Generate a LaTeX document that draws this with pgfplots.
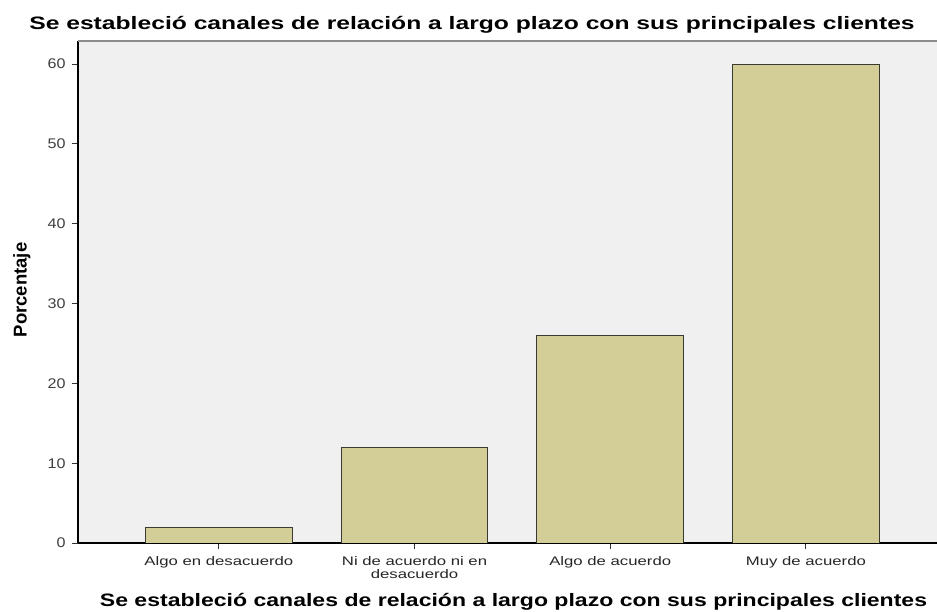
\documentclass[border=0pt]{standalone}
\usepackage{pgfplots}
\pgfplotsset{compat=1.18}
\usepackage{fontspec}
\setmainfont{Liberation Sans}
\newfontfamily\tickfont[FakeStretch=1.35]{Liberation Sans}
\newfontfamily\ytickfont[FakeStretch=1.15]{Liberation Sans}
\newfontfamily\titlefont[FakeStretch=1.37]{Liberation Sans}
\newfontfamily\xlabfont[FakeStretch=1.28]{Liberation Sans}
\definecolor{bgc}{HTML}{F0F0F0}
\definecolor{barc}{HTML}{D3CE97}
\definecolor{edgec}{HTML}{3A3A32}
\begin{document}
\begin{tikzpicture}
\useasboundingbox (0,0) rectangle (937bp,612bp);
\begin{axis}[
  at={(78bp,69bp)}, anchor=south west,
  width=859bp, height=502bp, scale only axis,
  xmin=-0.72, xmax=3.67, ymin=0, ymax=62.9,
  axis x line*=bottom, axis y line*=left,
  axis line style={black, line width=1.1bp},
  axis background/.style={fill=bgc},
  ybar, bar width=0.75,
  xtick={0,1,2,3},
  xticklabels={Algo en desacuerdo, {Ni de acuerdo ni en\\desacuerdo}, Algo de acuerdo, Muy de acuerdo},
  ytick={0,10,20,30,40,50,60},
  tick align=outside, major tick length=6bp,
  tick style={black!80, line width=1bp},
  /pgf/number format/assume math mode=true,
  xticklabel style={font=\tickfont\fontsize{12.4bp}{12.5bp}\selectfont, align=center, text=black!85, yshift=-4bp},
  yticklabel style={font=\ytickfont\fontsize{14bp}{14bp}\selectfont, text=black!75, xshift=-3bp},
  title={Se estableció canales de relación a largo plazo con sus principales clientes},
  title style={font=\titlefont\bfseries\fontsize{18bp}{20bp}\selectfont, at={(axis description cs:0.4587,1.021)}, anchor=center},
  xlabel={Se estableció canales de relación a largo plazo con sus principales clientes},
  xlabel style={font=\xlabfont\bfseries\fontsize{18bp}{20bp}\selectfont, at={(axis description cs:0.507,-0.1175)}, anchor=center},
  ylabel={Porcentaje},
  ylabel style={font=\bfseries\fontsize{18.5bp}{20bp}\selectfont, at={(axis description cs:-0.0655,0.504)}, anchor=center},
  after end axis/.code={\draw[black!45, line width=1.3bp] (rel axis cs:0,1) -- (rel axis cs:1,1);},
]
\addplot[fill=barc, draw=edgec, line width=1bp] coordinates {(0,2) (1,12) (2,26) (3,60)};
\end{axis}
\end{tikzpicture}
\end{document}
